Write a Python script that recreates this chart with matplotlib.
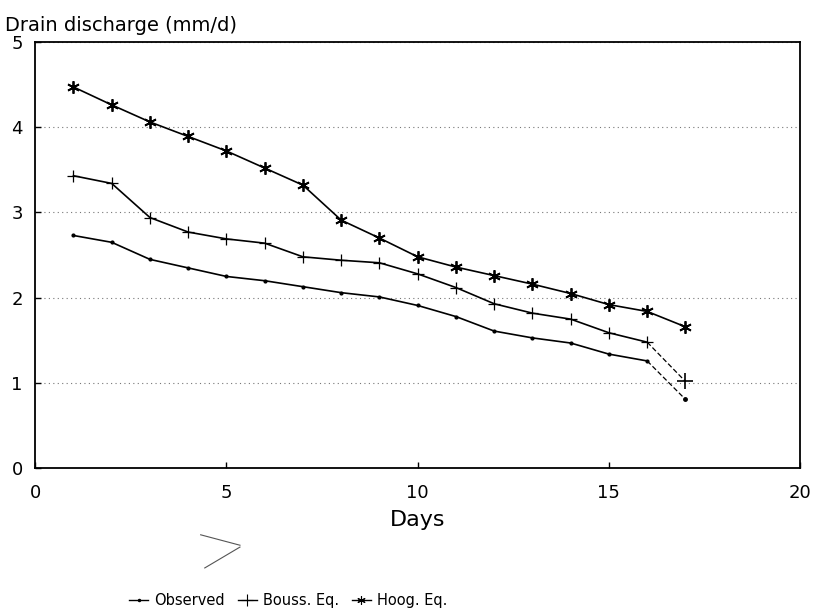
import numpy as np
import matplotlib.pyplot as plt
from matplotlib.lines import Line2D

plt.rcParams['font.family'] = ['DejaVu Sans']

# Data
days = [1, 2, 3, 4, 5, 6, 7, 8, 9, 10, 11, 12, 13, 14, 15, 16, 17]
observed = [2.73, 2.65, 2.45, 2.35, 2.25, 2.20, 2.13, 2.06, 2.01, 1.91,
            1.78, 1.61, 1.53, 1.47, 1.34, 1.26, 0.81]
bouss = [3.43, 3.34, 2.94, 2.77, 2.69, 2.64, 2.48, 2.44, 2.41, 2.28,
         2.12, 1.93, 1.82, 1.75, 1.59, 1.48, 1.02]
hoog = [4.47, 4.26, 4.06, 3.89, 3.72, 3.52, 3.32, 2.91, 2.70, 2.48,
        2.36, 2.26, 2.16, 2.05, 1.92, 1.84, 1.66]

xticks = [0, 5, 10, 15, 20]
yticks = [0, 1, 2, 3, 4, 5]

fig = plt.figure(figsize=(8.19, 6.14), dpi=100)
ax = fig.add_axes([0.043, 0.237, 0.934, 0.695])

asterisk = (6, 2, 0)

# solid part up to day 16, dashed last segment for observed / bouss
ax.plot(days[:-1], observed[:-1], color='black', lw=1.2, marker='.', ms=4)
ax.plot(days[-2:], observed[-2:], color='black', lw=0.9, ls=(0, (4, 2)))
ax.plot(days[-1:], observed[-1:], color='black', marker='.', ms=5, ls='none')

ax.plot(days[:-1], bouss[:-1], color='black', lw=1.2, marker='+', ms=9, mew=0.9)
ax.plot(days[-2:], bouss[-2:], color='black', lw=0.9, ls=(0, (4, 2)))
ax.plot(days[-1:], bouss[-1:], color='black', marker='+', ms=11, mew=1.2, ls='none')

ax.plot(days, hoog, color='black', lw=1.2, marker=asterisk, ms=9, mew=1.3)

ax.set_xlim(0, 20)
ax.set_ylim(0, 5)
ax.set_xticks(xticks)
ax.set_yticks(yticks)
ax.set_xticklabels([str(t) for t in xticks], fontsize=13)
ax.set_yticklabels([str(t) for t in yticks], fontsize=13)
ax.tick_params(direction='in', length=4, width=1, pad=9)
ax.tick_params(axis='x', pad=11)
ax.grid(axis='y', color='#777777', ls=(0, (1, 3)), lw=0.8)
for sp in ax.spines.values():
    sp.set_linewidth(1.3)

ax.set_xlabel('Days', fontsize=16, labelpad=6)
fig.text(0.006, 0.958, 'Drain discharge (mm/d)', fontsize=14, ha='left', va='center')

# hand-drawn mark below the axis
fig.add_artist(Line2D([0.245, 0.293], [0.129, 0.112],
                      color='#555555', lw=0.8, transform=fig.transFigure))
fig.add_artist(Line2D([0.293, 0.25], [0.109, 0.075],
                      color='#555555', lw=0.8, transform=fig.transFigure))

handles = [
    Line2D([], [], color='black', lw=1.0, marker='.', ms=3),
    Line2D([], [], color='black', lw=1.0, marker='+', ms=8, mew=0.8),
    Line2D([], [], color='black', lw=1.0, marker=asterisk, ms=6, mew=0.8),
]
fig.legend(handles, ['Observed', 'Bouss. Eq.', 'Hoog. Eq.'], loc='center',
           bbox_to_anchor=(0.352, 0.022), ncol=3, frameon=False, fontsize=10.5,
           handlelength=1.3, handletextpad=0.4, columnspacing=0.9)

fig.savefig('out.png', dpi=100)
